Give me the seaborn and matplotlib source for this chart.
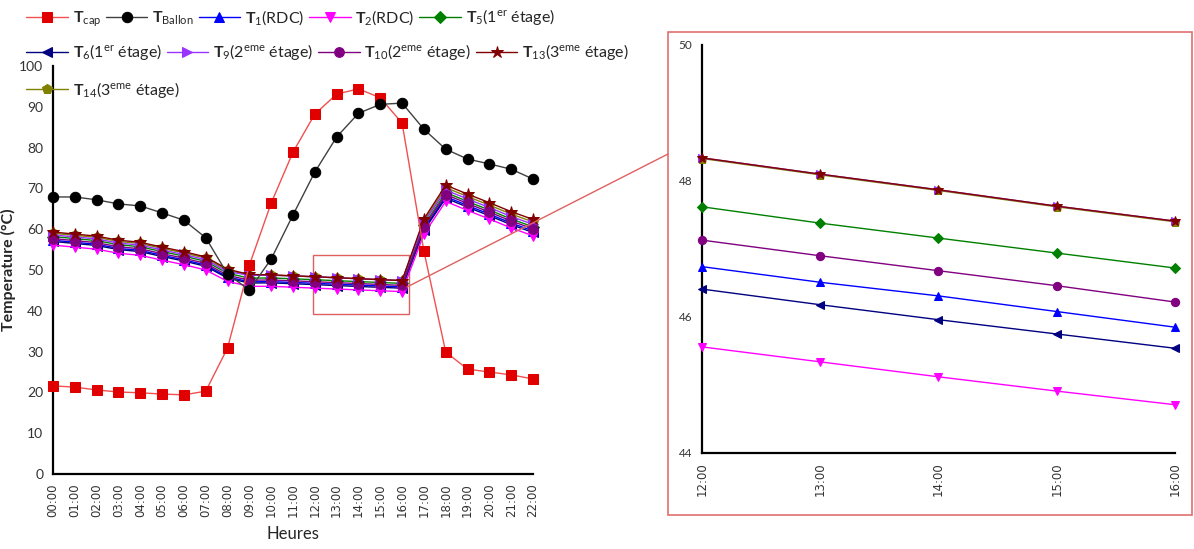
import matplotlib
matplotlib.use("Agg")
import matplotlib.pyplot as plt
import seaborn as sns
from matplotlib.patches import Rectangle
from matplotlib.lines import Line2D

# data
hours = list(range(23))
hour_labels = ["%02d:00" % h for h in hours]

T_cap = [21.6, 21.3, 20.6, 20.1, 19.9, 19.6, 19.4, 20.3, 30.9, 51.2, 66.4, 78.9, 88.2,
         93.1, 94.4, 92.2, 86.0, 54.6, 29.9, 25.7, 25.0, 24.3, 23.3]
T_ballon = [67.9, 67.9, 67.2, 66.2, 65.7, 64.0, 62.2, 57.9, 49.0, 45.1, 52.7, 63.5, 74.0,
            82.6, 88.4, 90.6, 90.9, 84.5, 79.6, 77.2, 76.0, 74.7, 72.3]
T13 = [59.3, 58.8, 58.3, 57.3, 56.8, 55.6, 54.5, 53.2, 50.2, 48.9, 48.8, 48.57, 48.34,
       48.10, 47.87, 47.63, 47.41, 62.5, 70.8, 68.6, 66.5, 64.3, 62.4]
T14 = [59.0, 58.5, 58.0, 57.0, 56.5, 55.3, 54.2, 52.9, 49.9, 48.8, 48.75, 48.55, 48.33,
       48.09, 47.86, 47.62, 47.40, 62.0, 70.2, 68.0, 65.9, 63.7, 61.8]
T9 = [58.6, 58.1, 57.6, 56.6, 56.1, 54.9, 53.8, 52.5, 49.6, 48.7, 48.7, 48.56, 48.34,
      48.10, 47.87, 47.63, 47.41, 61.6, 69.6, 67.4, 65.3, 63.1, 61.2]
T5 = [58.2, 57.7, 57.2, 56.2, 55.7, 54.5, 53.4, 52.1, 49.2, 48.0, 48.05, 47.85, 47.62,
      47.38, 47.16, 46.94, 46.72, 61.0, 69.0, 66.8, 64.7, 62.5, 60.6]
T10 = [57.7, 57.2, 56.7, 55.7, 55.2, 54.0, 52.9, 51.6, 48.7, 47.5, 47.55, 47.35, 47.13,
       46.90, 46.68, 46.46, 46.22, 60.5, 68.5, 66.3, 64.2, 62.0, 60.1]
T1 = [57.3, 56.8, 56.3, 55.3, 54.8, 53.6, 52.5, 51.2, 48.3, 47.1, 47.15, 46.95, 46.74,
      46.51, 46.31, 46.08, 45.85, 60.0, 68.0, 65.8, 63.7, 61.5, 59.6]
T6 = [57.0, 56.5, 56.0, 55.0, 54.5, 53.3, 52.2, 50.9, 48.0, 46.8, 46.85, 46.63, 46.41,
      46.18, 45.96, 45.75, 45.54, 59.7, 67.6, 65.4, 63.3, 61.1, 59.2]
T2 = [56.1, 55.6, 55.1, 54.1, 53.6, 52.4, 51.3, 50.0, 47.2, 46.0, 46.0, 45.78, 45.56,
      45.34, 45.12, 44.91, 44.71, 58.8, 66.8, 64.6, 62.5, 60.3, 58.4]

labels = [r"$\mathbf{T}_{\mathrm{cap}}$", r"$\mathbf{T}_{\mathrm{Ballon}}$",
          r"$\mathbf{T}_{1}$(RDC)", r"$\mathbf{T}_{2}$(RDC)",
          r"$\mathbf{T}_{5}$(1$^{\mathrm{er}}$ étage)", r"$\mathbf{T}_{6}$(1$^{\mathrm{er}}$ étage)",
          r"$\mathbf{T}_{9}$(2$^{\mathrm{eme}}$ étage)", r"$\mathbf{T}_{10}$(2$^{\mathrm{eme}}$ étage)",
          r"$\mathbf{T}_{13}$(3$^{\mathrm{eme}}$ étage)", r"$\mathbf{T}_{14}$(3$^{\mathrm{eme}}$ étage)"]
series = [T_cap, T_ballon, T1, T2, T5, T6, T9, T10, T13, T14]
colors = ["#e00000", "#000000", "#0000ff", "#ff00ff", "#008000", "#000080",
          "#9933ff", "#800080", "#800000", "#808000"]
line_colors = ["#f05050", "#404040", "#0000ff", "#ff00ff", "#008000", "#000080",
               "#9933ff", "#800080", "#800000", "#808000"]
markers = ["s", "o", "^", "v", "D", "<", ">", "o", "*", "p"]
msizes = [7, 7.5, 7, 7, 6, 7, 7, 7, 9, 7.5]
zorders = [4, 4, 3.2, 3.3, 3.1, 3.2, 3.4, 3.5, 3.6, 3.0]

sns.set_theme(style="white")
plt.rcParams["font.family"] = ["Lato", "DejaVu Sans"]
plt.rcParams["mathtext.fontset"] = "custom"
plt.rcParams["mathtext.rm"] = "Lato"
plt.rcParams["mathtext.bf"] = "Lato:bold"
plt.rcParams["mathtext.it"] = "Lato:italic"

fig = plt.figure(figsize=(11.94, 5.49), dpi=100)
ax = fig.add_axes([0.0444, 0.1366, 0.402, 0.7432])
axz = fig.add_axes([0.588, 0.1749, 0.396, 0.7432])

for vals, lab, c, lc, m, ms, z in zip(series, labels, colors, line_colors, markers, msizes, zorders):
    sns.lineplot(x=hours, y=vals, ax=ax, color=lc, marker=m, markersize=ms,
                 markerfacecolor=c, markeredgecolor=c, linewidth=1.0, label=lab,
                 clip_on=False, zorder=z)

# zoomed panel: only the building temperatures
zoom_idx = slice(12, 17)
for vals, c, lc, m, ms, z in zip(series[2:], colors[2:], line_colors[2:], markers[2:],
                                 msizes[2:], zorders[2:]):
    sns.lineplot(x=hours[zoom_idx], y=vals[zoom_idx], ax=axz, color=lc, marker=m,
                 markersize=ms * 0.85, markerfacecolor=c, markeredgecolor=c,
                 linewidth=1.0, clip_on=False, zorder=z)

handles, labs = ax.get_legend_handles_labels()
ax.get_legend().remove()

for a in (ax, axz):
    for s in ("top", "right"):
        a.spines[s].set_visible(False)
    for s in ("left", "bottom"):
        a.spines[s].set_color("black")
        a.spines[s].set_linewidth(1.6)
    a.tick_params(axis="both", direction="out", length=5, width=1.4, colors="black",
                  labelcolor="#333333", pad=2)

ax.set_xlim(0, 22)
ax.set_ylim(0, 100)
ax.set_yticks(range(0, 101, 10))
ax.set_xticks(hours)
ax.set_xticklabels(hour_labels, rotation=90, fontsize=8.5, family="DejaVu Sans")
ax.tick_params(axis="y", labelsize=10)
ax.set_xlabel("Heures", fontsize=12, labelpad=6)
ax.set_ylabel("Temperature (°C)", fontsize=11.5, fontweight="bold", labelpad=2)

axz.set_xlim(12, 16)
axz.set_ylim(44, 50)
axz.set_yticks([44, 46, 48, 50])
axz.set_xticks(hours[zoom_idx])
axz.set_xticklabels(hour_labels[zoom_idx], rotation=90, fontsize=8.5, family="DejaVu Sans")
axz.tick_params(axis="y", labelsize=8.5)

# zoom frame, rectangle and connector
ax.add_patch(Rectangle((11.9, 39.2), 4.4, 14.5, fill=False, edgecolor="#e06060",
                       linewidth=1.0, zorder=2))
fig.add_artist(Rectangle((0.5595, 0.062), 0.4389, 0.88, transform=fig.transFigure,
                         fill=False, edgecolor="#e07070", linewidth=1.2))
fig.add_artist(Line2D([407 / 1194, 668 / 1194], [1 - 287 / 549, 1 - 154 / 549],
                      transform=fig.transFigure, color="#e06060", linewidth=1.0))

# legend in three rows
rows = [(0, 5, 0.967), (5, 9, 0.905), (9, 10, 0.836)]
for i0, i1, yy in rows:
    leg = fig.legend(handles[i0:i1], labs[i0:i1], loc="center left",
                     bbox_to_anchor=(0.022, yy), ncol=i1 - i0, frameon=False,
                     fontsize=11.5, handlelength=2.6, handletextpad=0.3,
                     columnspacing=0.3, borderpad=0, borderaxespad=0)

fig.savefig("out.png", dpi=100)
